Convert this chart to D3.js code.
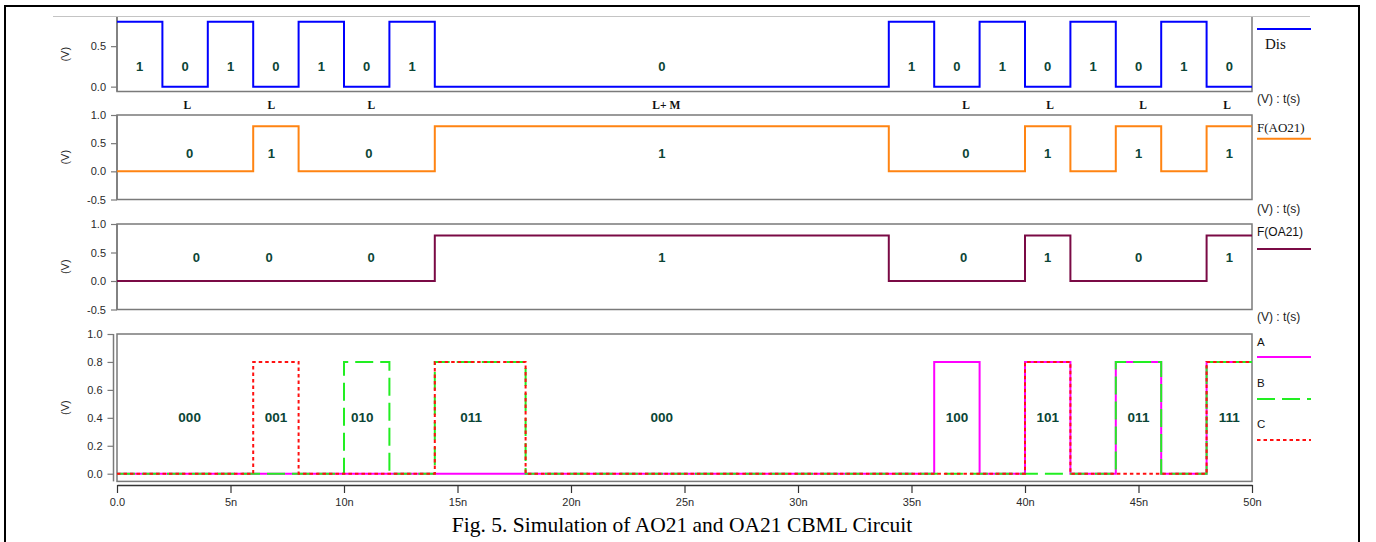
<!DOCTYPE html>
<html><head><meta charset="utf-8">
<script src="https://cdn.jsdelivr.net/npm/d3@7"></script>
<style>body{margin:0;background:#fff}svg{display:block}</style>
</head><body>
<svg id="c" width="1376" height="542"></svg>
<script>
// ---------- DATA ----------
const xTicks = [0,5,10,15,20,25,30,35,40,45,50];
const xTickLabels = ["0.0","5n","10n","15n","20n","25n","30n","35n","40n","45n","50n"];

// step signals: level starting at each time (ns)
const disT = [0,2,4,6,8,10,12,14,34,36,38,40,42,44,46,48,50];
const disV = [0.8,0,0.8,0,0.8,0,0.8,0,0.8,0,0.8,0,0.8,0,0.8,0,0];
const ao21T = [0,6,8,14,34,40,42,44,46,48,50];
const ao21V = [0,0.8,0,0.8,0,0.8,0,0.8,0,0.8,0.8];
const oa21T = [0,14,34,40,42,48,50];
const oa21V = [0,0.8,0,0.8,0,0.8,0.8];
const aT = [0,36,38,40,42,44,46,48,50];
const aV = [0,0.8,0,0.8,0,0.8,0,0.8,0.8];
const bT = [0,10,12,14,18,44,46,48,50];
const bV = [0,0.8,0,0.8,0,0.8,0,0.8,0.8];
const cT = [0,6,8,14,18,40,42,48,50];
const cV = [0,0.8,0,0.8,0,0.8,0,0.8,0.8];

// state labels
const disLabT = [1,3,5,7,9,11,13,24,35,37,39,41,43,45,47,49];
const disLab  = ["1","0","1","0","1","0","1","0","1","0","1","0","1","0","1","0"];
const modeLabT = [3.1,6.8,11.2,24.2,37.4,41.1,45.2,48.9];
const modeLab  = ["L","L","L","L+ M","L","L","L","L"];
const ao21LabT = [3.2,6.8,11.1,24,37.4,41,45,49];
const ao21Lab  = ["0","1","0","1","0","1","1","1"];
const oa21LabT = [3.5,6.7,11.2,24,37.3,41,45,49];
const oa21Lab  = ["0","0","0","1","0","1","0","1"];
const inLabT = [3.2,7,10.8,15.6,24,37,41,45,49];
const inLab  = ["000","001","010","011","000","100","101","011","111"];

const yTicks1 = [0,0.5];
const yTicks1Labels = ["0.0","0.5"];
const yTicks23 = [-0.5,0,0.5,1.0];
const yTicks23Labels = ["-0.5","0.0","0.5","1.0"];
const yTicks4 = [0,0.2,0.4,0.6,0.8,1.0];
const yTicks4Labels = ["0.0","0.2","0.4","0.6","0.8","1.0"];

const caption = "Fig. 5. Simulation of AO21 and OA21 CBML Circuit";

// ---------- DRAW ----------
const svg = d3.select("#c");
const X0 = 117, X1 = 1252;
const x = d3.scaleLinear().domain([0,50]).range([X0,X1]);
const gray = "#7a7a7a";
const labCol = "#0b4536";
const sans = "'Liberation Sans', Arial, sans-serif";
const serif = "'Liberation Serif', 'Times New Roman', serif";

// outer frame
svg.append("rect").attr("x",5).attr("y",6).attr("width",1354).attr("height",600)
  .attr("fill","none").attr("stroke","#000").attr("stroke-width",2);
svg.append("line").attr("x1",53).attr("x2",1310).attr("y1",16.5).attr("y2",16.5)
  .attr("stroke","#c4c4c4").attr("stroke-width",1);

const panels = [
  {dom:[-0.06,0.86], rng:[91.5,17], ticks:yTicks1, labs:yTicks1Labels, box:"open"},
  {dom:[-0.5,1.0], rng:[199.5,115], ticks:yTicks23, labs:yTicks23Labels, box:"full"},
  {dom:[-0.5,1.0], rng:[309.5,224], ticks:yTicks23, labs:yTicks23Labels, box:"full"},
  {dom:[-0.055,1.0], rng:[481.4,334], ticks:yTicks4, labs:yTicks4Labels, box:"full4"}
];
panels.forEach(p => { p.y = d3.scaleLinear().domain(p.dom).range(p.rng); });

panels.forEach((p,i) => {
  const top = p.rng[1], bot = p.rng[0];
  if (p.box === "open") {
    svg.append("path").attr("d",`M${X0},${top}V${bot}H${X1}V${top}`)
      .attr("fill","none").attr("stroke",gray).attr("stroke-width",1.5);
  } else {
    svg.append("rect").attr("x",X0).attr("y",top).attr("width",X1-X0).attr("height",bot-top)
      .attr("fill","none").attr("stroke",gray).attr("stroke-width",1.5);
  }
  const axX = p.box === "full4" ? 113.5 : X0;
  const ax = d3.axisLeft(p.y).tickValues(p.ticks).tickFormat((d,k)=>p.labs[k]).tickSize(6).tickPadding(5);
  const g = svg.append("g").attr("transform",`translate(${axX},0)`).call(ax);
  g.select(".domain").attr("stroke",gray).attr("stroke-width",1.5).attr("d",`M0,${top}V${bot}`);
  g.selectAll(".tick line").attr("stroke",gray).attr("stroke-width",1.2);
  g.selectAll(".tick text").attr("font-family",sans).attr("font-size",11).attr("fill","#2a2a2a");
  svg.append("text").attr("transform",`translate(69,${(top+bot)/2}) rotate(-90)`)
    .attr("text-anchor","middle").attr("font-family",sans).attr("font-size",11).attr("fill","#2a2a2a")
    .text("(V)");
});

// x axis
const xg = svg.append("g").attr("transform","translate(0,485)")
  .call(d3.axisBottom(x).tickValues(xTicks).tickFormat((d,i)=>xTickLabels[i]).tickSize(8).tickSizeOuter(0).tickPadding(5));
xg.select(".domain").attr("stroke","#333").attr("stroke-width",1.5);
xg.selectAll(".tick line").attr("stroke","#333").attr("stroke-width",1.2);
xg.selectAll(".tick text").attr("font-family",sans).attr("font-size",11).attr("fill","#2a2a2a");

// signals
function drawSig(T,V,yS,color,dash){
  const pts = T.map((t,i)=>[t,V[i]]);
  const line = d3.line().x(d=>x(d[0])).y(d=>yS(d[1])).curve(d3.curveStepAfter);
  const path = svg.append("path").attr("d",line(pts)).attr("fill","none")
    .attr("stroke",color).attr("stroke-width",2);
  if (dash) path.attr("stroke-dasharray",dash);
}
drawSig(disT,disV,panels[0].y,"#0000ff");
drawSig(ao21T,ao21V,panels[1].y,"#ff8412");
drawSig(oa21T,oa21V,panels[2].y,"#7a0a45");
drawSig(aT,aV,panels[3].y,"#ff00ff");
drawSig(bT,bV,panels[3].y,"#22ee22","18,7");
drawSig(cT,cV,panels[3].y,"#ff1010","3.5,3");

// state labels
function labels(T,L,yPix,size){
  svg.append("g").selectAll("text").data(T).join("text")
    .attr("x",d=>x(d)).attr("y",yPix).attr("text-anchor","middle")
    .attr("font-family",sans).attr("font-weight","bold").attr("font-size",size)
    .attr("fill",labCol).text((d,i)=>L[i]);
}
labels(disLabT,disLab,70.5,13);
labels(ao21LabT,ao21Lab,157.5,13);
labels(oa21LabT,oa21Lab,262,13);
labels(inLabT,inLab,422,13.5);

svg.append("g").selectAll("text").data(modeLabT).join("text")
  .attr("x",d=>x(d)).attr("y",109).attr("text-anchor","middle")
  .attr("font-family",serif).attr("font-weight","bold").attr("font-size",11.5)
  .attr("fill","#111").text((d,i)=>modeLab[i]);

// legends
const legends = [
  {name:"Dis", ty:49, ly:29, color:"#0000ff", font:serif, size:15},
  {name:"F(AO21)", ty:132, ly:138.7, color:"#ff8412", font:serif, size:13},
  {name:"F(OA21)", ty:235.5, ly:249, color:"#7a0a45", font:sans, size:12},
  {name:"A", ty:346, ly:357, color:"#ff00ff", font:sans, size:11.5},
  {name:"B", ty:387, ly:399, color:"#22ee22", font:sans, size:11.5, dash:"18,7"},
  {name:"C", ty:427.5, ly:440, color:"#ff1010", font:sans, size:11.5, dash:"3.5,3"}
];
legends.forEach((l,i)=>{
  svg.append("text").attr("x", l.name==="Dis"?1265:1257).attr("y",l.ty)
    .attr("font-family",l.font).attr("font-size",l.size).attr("fill","#111").text(l.name);
  const ln = svg.append("line").attr("x1",1257).attr("x2",1311).attr("y1",l.ly).attr("y2",l.ly)
    .attr("stroke",l.color).attr("stroke-width",2);
  if (l.dash) ln.attr("stroke-dasharray",l.dash);
});
[103,213,321].forEach(yy=>{
  svg.append("text").attr("x",1257).attr("y",yy).attr("font-family",sans).attr("font-size",12)
    .attr("fill","#222").text("(V) : t(s)");
});

// caption
svg.append("text").attr("x",682).attr("y",532).attr("text-anchor","middle")
  .attr("font-family",serif).attr("font-size",21.5).attr("fill","#000").text(caption);
</script>
</body></html>
